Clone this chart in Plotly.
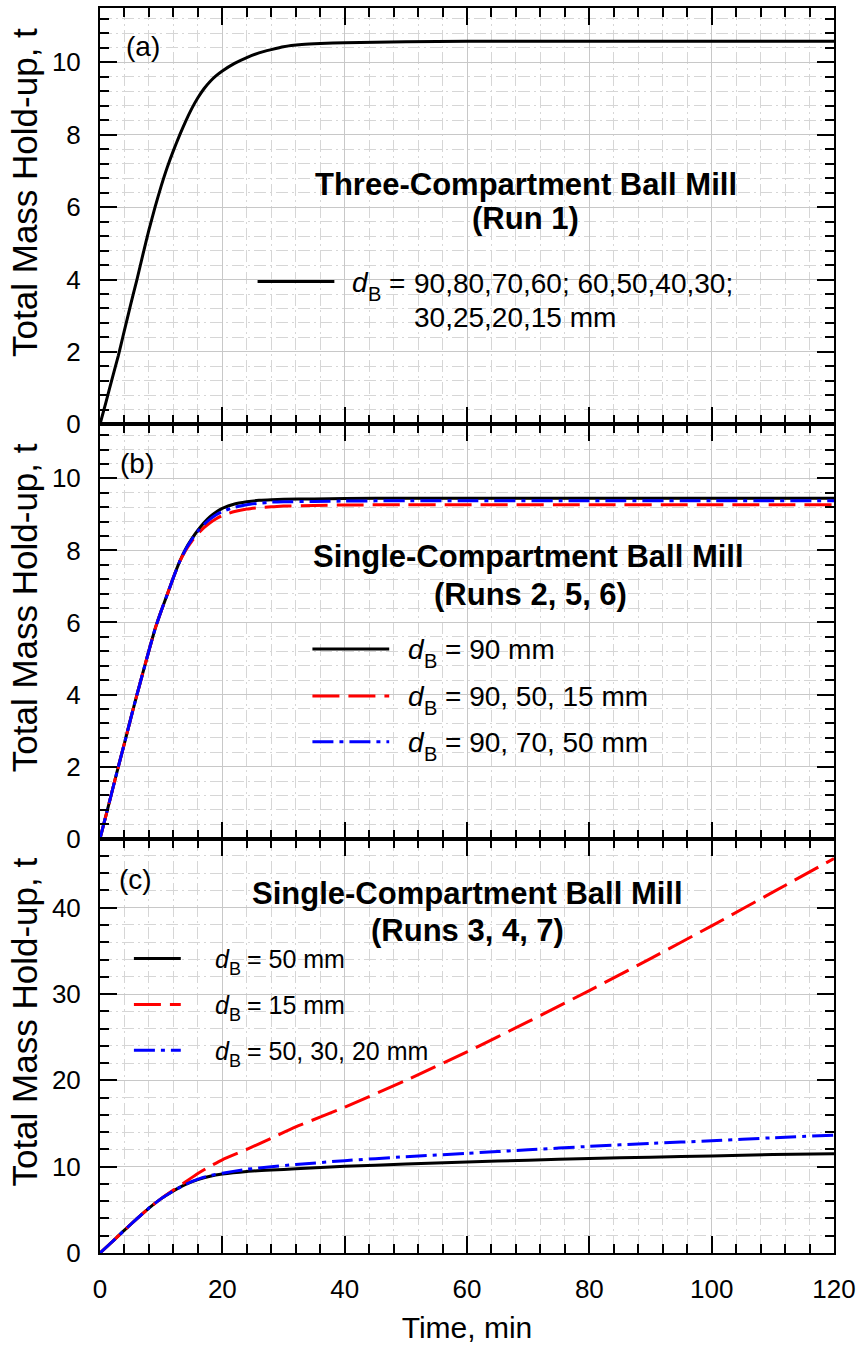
import plotly.graph_objects as go
from plotly.subplots import make_subplots

FONT = "Arial, 'Liberation Sans', Helvetica, sans-serif"

# ---------------- data ----------------
# Panel (a): three-compartment mill, Run 1
time_a = [0, 1, 2, 3, 4, 5, 6, 7, 8, 9, 10, 11, 12, 13, 14, 15, 16, 17, 18, 19, 20,
          22, 24, 26, 28, 30, 33, 36, 40, 50, 60, 80, 100, 120]
hold_a = [0, 0.63, 1.27, 1.9, 2.6, 3.3, 3.97, 4.68, 5.37, 6.0, 6.58, 7.1, 7.56, 7.98,
          8.37, 8.72, 9.02, 9.27, 9.47, 9.63, 9.76, 9.97, 10.13, 10.26, 10.35, 10.43,
          10.49, 10.52, 10.54, 10.57, 10.58, 10.58, 10.58, 10.58]

# Panel (b): single-compartment mill, Runs 2, 5, 6
time_b = [0, 1, 2, 3, 4, 5, 6, 7, 8, 9, 10, 11, 12, 13, 14, 15, 16, 17, 18, 19, 20,
          22, 24, 26, 28, 30, 35, 40, 50, 60, 80, 100, 120]
hold_b_90 = [0, 0.66, 1.33, 2.0, 2.65, 3.32, 3.97, 4.6, 5.22, 5.82, 6.32, 6.78, 7.25,
             7.68, 8.04, 8.32, 8.56, 8.77, 8.94, 9.07, 9.17, 9.29, 9.35, 9.39, 9.41, 9.42,
             9.43, 9.44, 9.45, 9.45, 9.45, 9.45, 9.45]
hold_b_90_50_15 = [0, 0.66, 1.33, 2.0, 2.65, 3.32, 3.97, 4.6, 5.22, 5.82, 6.32, 6.78,
                   7.25, 7.68, 8.0, 8.25, 8.46, 8.63, 8.77, 8.88, 8.97, 9.08, 9.15, 9.19,
                   9.21, 9.23, 9.25, 9.26, 9.27, 9.27, 9.27, 9.27, 9.27]
hold_b_90_70_50 = [0, 0.66, 1.33, 2.0, 2.65, 3.32, 3.97, 4.6, 5.22, 5.82, 6.32, 6.78,
                   7.25, 7.68, 8.03, 8.3, 8.53, 8.72, 8.87, 8.99, 9.08, 9.2, 9.27, 9.31,
                   9.34, 9.35, 9.36, 9.37, 9.38, 9.38, 9.38, 9.38, 9.38]

# Panel (c): single-compartment mill, Runs 3, 4, 7
time_c = [0, 2, 4, 6, 8, 10, 12, 14, 16, 18, 20, 24, 28, 32, 40, 50, 60, 70, 80, 90,
          100, 110, 120]
hold_c_50 = [0, 1.3, 2.65, 3.95, 5.2, 6.3, 7.2, 7.95, 8.5, 8.9, 9.15, 9.45, 9.62, 9.75,
             10.05, 10.3, 10.55, 10.75, 10.95, 11.1, 11.25, 11.4, 11.5]
hold_c_15 = [0, 1.3, 2.65, 3.95, 5.2, 6.3, 7.3, 8.25, 9.2, 10.05, 10.8, 12.0, 13.3, 14.6,
             16.9, 20.0, 23.3, 26.8, 30.4, 34.1, 37.9, 41.8, 45.7]
hold_c_50_30_20 = [0, 1.3, 2.65, 3.95, 5.2, 6.3, 7.2, 7.95, 8.55, 8.98, 9.25, 9.7, 10.0,
                   10.25, 10.7, 11.15, 11.55, 11.95, 12.35, 12.7, 13.0, 13.35, 13.65]

# text
panel_labels = ["(a)", "(b)", "(c)"]
titles_a = ["Three-Compartment Ball Mill", "(Run 1)"]
titles_b = ["Single-Compartment Ball Mill", "(Runs 2, 5, 6)"]
titles_c = ["Single-Compartment Ball Mill", "(Runs 3, 4, 7)"]
legend_a = ["90,80,70,60; 60,50,40,30;", "30,25,20,15 mm"]
legend_b = ["90 mm", "90, 50, 15 mm", "90, 70, 50 mm"]
legend_c = ["50 mm", "15 mm", "50, 30, 20 mm"]
symbol_d, symbol_sub = "d", "B"
y_title = "Total Mass Hold-up, t"
x_title = "Time, min"

# ---------------- styles ----------------
BLACK = dict(color="black", width=3)
RED = dict(color="#ff0000", width=3, dash="27px,9px")
BLUE = dict(color="#0000ff", width=3, dash="21px,6px,4px,6px")

W, H = 862, 1346
ML, MR, MT, MB = 100, 26, 6, 93
PW = W - ML - MR
PH = H - MT - MB


def px(x):
    return (x - ML) / PW


def py(y):
    return (H - MB - y) / PH


fig = make_subplots(rows=3, cols=1, shared_xaxes=True, vertical_spacing=0)


def line_trace(x, y, style):
    return go.Scatter(x=x, y=y, mode="lines", line=dict(shape="spline", smoothing=0.5, **style),
                      showlegend=False, hoverinfo="skip")


fig.add_trace(line_trace(time_a, hold_a, BLACK), row=1, col=1)

fig.add_trace(line_trace(time_b, hold_b_90, BLACK), row=2, col=1)
fig.add_trace(line_trace(time_b, hold_b_90_50_15, RED), row=2, col=1)
fig.add_trace(line_trace(time_b, hold_b_90_70_50, BLUE), row=2, col=1)

fig.add_trace(line_trace(time_c, hold_c_50, BLACK), row=3, col=1)
fig.add_trace(line_trace(time_c, hold_c_15, RED), row=3, col=1)
fig.add_trace(line_trace(time_c, hold_c_50_30_20, BLUE), row=3, col=1)

GRID_MAJOR = "#c8c8c8"
GRID_MINOR = "#d6d6d6"

xcommon = dict(
    range=[0, 120], tick0=0, dtick=20, ticks="inside", ticklen=17, tickwidth=1.5,
    tickcolor="black", showline=True, linecolor="black", linewidth=2, mirror="allticks",
    showgrid=True, gridcolor=GRID_MAJOR, gridwidth=1, zeroline=False,
    minor=dict(dtick=4, ticks="inside", ticklen=9, tickwidth=1.5, tickcolor="black",
               showgrid=True, gridcolor=GRID_MINOR, griddash="12px,4px,2px,4px", gridwidth=1),
    tickfont=dict(family=FONT, size=26, color="black"),
    ticklabelstandoff=12,
)
for i in (1, 2, 3):
    fig.update_xaxes(row=i, col=1, **xcommon)
fig.update_xaxes(row=3, col=1, showticklabels=True,
                 title=dict(text=x_title, font=dict(family=FONT, size=30, color="black"), standoff=14))

ycommon = dict(
    ticks="inside", ticklen=17, tickwidth=1.5, tickcolor="black", showline=True,
    linecolor="black", linewidth=2, mirror="allticks", showgrid=True, gridcolor=GRID_MAJOR,
    gridwidth=1, zeroline=False, tickfont=dict(family=FONT, size=26, color="black"),
    ticklabelstandoff=12,
)
minor_y = dict(ticks="inside", ticklen=9, tickwidth=1.5, tickcolor="black", showgrid=True,
               gridcolor=GRID_MINOR, griddash="12px,4px,2px,4px", gridwidth=1)
fig.update_yaxes(row=1, col=1, range=[0, 11.5], tick0=0, dtick=2, minor=dict(dtick=0.4, **minor_y), **ycommon)
fig.update_yaxes(row=2, col=1, range=[0, 11.5], tick0=0, dtick=2, minor=dict(dtick=0.4, **minor_y), **ycommon)
fig.update_yaxes(row=3, col=1, range=[0, 48], tick0=0, dtick=10, minor=dict(dtick=2, **minor_y), **ycommon)

hc = 415 / PH
fig.update_layout(
    yaxis=dict(domain=[2 * hc, 1]),
    yaxis2=dict(domain=[hc, 2 * hc]),
    yaxis3=dict(domain=[0, hc]),
)

annotations = []
shapes = []


def text(x, y, s, size=27, weight="normal", style="normal", xanchor="left", angle=0):
    annotations.append(dict(x=px(x), y=py(y), xref="paper", yref="paper", text=s,
                            showarrow=False, xanchor=xanchor, yanchor="middle", textangle=angle,
                            font=dict(family=FONT, size=size, color="black",
                                      weight=weight, style=style)))


def key(x0, x1, y, style):
    ln = dict(color=style["color"], width=style["width"])
    if "dash" in style:
        ln["dash"] = style["dash"]
    shapes.append(dict(type="line", xref="paper", yref="paper", x0=px(x0), x1=px(x1),
                       y0=py(y), y1=py(y), line=ln))


def d_symbol(x, y, size):
    """italic d with subscript B; returns x where the following text starts"""
    text(x, y, symbol_d, size=size, style="italic")
    xs = x + 0.556 * size
    sub = round(0.7 * size)
    text(xs, y + 0.4 * size, symbol_sub, size=sub)
    return xs + 0.667 * sub + 0.278 * size


# y-axis titles
for yc in (191, 607, 1022):
    text(24, yc, y_title, size=35, xanchor="center", angle=-90)

# panel labels
text(143, 45, panel_labels[0], size=28, xanchor="center")
text(137, 462, panel_labels[1], size=28, xanchor="center")
text(136, 879, panel_labels[2], size=28, xanchor="center")

# panel titles
text(527, 183, titles_a[0], size=31, weight="bold", xanchor="center")
text(527, 217, titles_a[1], size=31, weight="bold", xanchor="center")
text(530, 555, titles_b[0], size=31, weight="bold", xanchor="center")
text(532, 593, titles_b[1], size=31, weight="bold", xanchor="center")
text(469, 893, titles_c[0], size=31, weight="bold", xanchor="center")
text(469, 930, titles_c[1], size=31, weight="bold", xanchor="center")

# legend (a)
key(258, 335, 280, BLACK)
xe = d_symbol(351, 281, 28)
text(xe, 282, "=", size=28)
text(413, 282, legend_a[0], size=28)
text(413, 316, legend_a[1], size=28)

# legend (b)
for yy, lab, st in zip([648, 695, 741], legend_b, [BLACK, RED, BLUE]):
    key(313, 390, yy, st)
    xe = d_symbol(407, yy + 1, 28)
    text(xe, yy + 1, "= " + lab, size=28)

# legend (c)
for yy, lab, st in zip([958, 1004, 1050], legend_c, [BLACK, RED, BLUE]):
    key(134, 181, yy, st)
    xe = d_symbol(213, yy + 1, 25)
    text(xe, yy + 1, "= " + lab, size=25)

fig.update_layout(
    width=W, height=H, margin=dict(l=ML, r=MR, t=MT, b=MB),
    paper_bgcolor="white", plot_bgcolor="white",
    font=dict(family=FONT, color="black"),
    annotations=annotations, shapes=shapes, showlegend=False,
)

fig.write_html("out.html")
